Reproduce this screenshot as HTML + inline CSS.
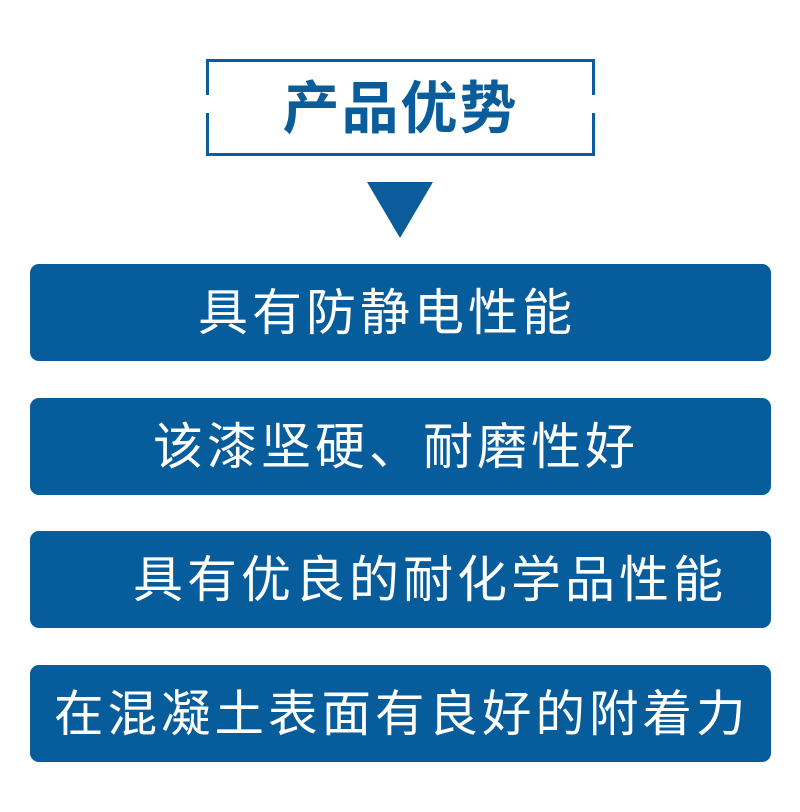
<!DOCTYPE html>
<html><head><meta charset="utf-8"><style>
body{margin:0;width:800px;height:812px;background:#fff;position:relative;overflow:hidden;font-family:"Liberation Sans","Noto Sans CJK SC",sans-serif}
.box{position:absolute;left:206px;top:59px;width:383px;height:91px;border:3px solid #0a5d9a}
.gap{position:absolute;background:#fff;width:6px;height:18px;top:95px}
.title{position:absolute;left:206px;width:389px;top:72px;text-align:center;font-size:57px;font-weight:bold;color:#0a5d9a;line-height:74px;letter-spacing:2px}
.tri{position:absolute;left:367px;top:182px;width:0;height:0;border-left:33px solid transparent;border-right:33px solid transparent;border-top:56px solid #0a5d9a}
.bar{position:absolute;left:30px;width:741px;height:97px;background:#075c9b;border-radius:9px}
.t{position:absolute;color:#fff;font-size:50px;line-height:60px;white-space:nowrap}
</style></head><body>
<div class="box"></div>
<div class="gap" style="left:204px"></div>
<div class="gap" style="left:591px"></div>
<div class="title">产品优势</div>
<div class="tri"></div>
<div class="bar" style="top:264px"></div>
<div class="bar" style="top:398px"></div>
<div class="bar" style="top:531px"></div>
<div class="bar" style="top:665px"></div>
<div class="t" style="left:198px;top:283px;letter-spacing:4px">具有防静电性能</div>
<div class="t" style="left:153px;top:417px;letter-spacing:4px">该漆坚硬、耐磨性好</div>
<div class="t" style="left:133px;top:550px;letter-spacing:4px">具有优良的耐化学品性能</div>
<div class="t" style="left:54px;top:685px;letter-spacing:4px;font-size:49.5px">在混凝土表面有良好的附着力</div>
</body></html>
